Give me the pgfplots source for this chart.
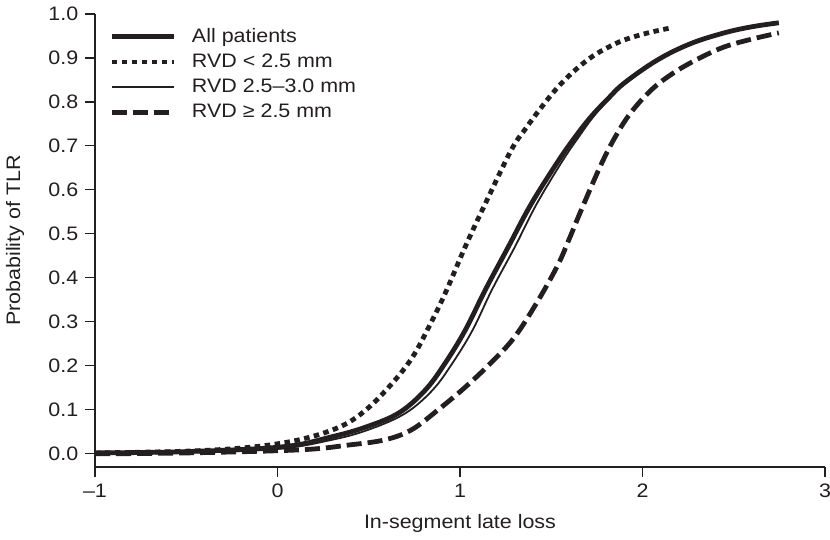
\documentclass[border=0pt]{standalone}
\usepackage{pgfplots}
\pgfplotsset{compat=1.18}
\usepackage{fontspec}
\setmainfont{Liberation Sans}[FakeStretch=1.1]
\definecolor{ink}{HTML}{231F20}
\newcommand{\chartfont}{\fontsize{19.5}{23}\selectfont}
\begin{document}
\chartfont
\begin{tikzpicture}
\useasboundingbox (-95pt,-72pt) rectangle (735pt,467pt);
\begin{axis}[
  scale only axis, width=730pt, height=453pt,
  xmin=-1, xmax=3, ymin=-0.03, ymax=1.0,
  axis x line*=bottom, axis y line*=left,
  axis line style={-, line width=1.1pt, ink},
  tick align=outside, major tick length=10pt,
  tick style={line width=1.1pt, ink},
  xtick={-1,0,1,2,3}, xticklabels={–1,0,1,2,3},
  ytick={0,0.1,0.2,0.3,0.4,0.5,0.6,0.7,0.8,0.9,1.0},
  yticklabels={0.0,0.1,0.2,0.3,0.4,0.5,0.6,0.7,0.8,0.9,1.0},
  tick label style={font=\chartfont, text=ink},
  xlabel={In-segment late loss}, ylabel={Probability of TLR},
  label style={font=\chartfont, text=ink},
  xlabel style={at={(axis description cs:0.5,-0.1236)}, anchor=center},
  ylabel style={at={(axis description cs:-0.1096,0.5)}, anchor=center},
  clip=false,
  legend cell align=left,
  legend image code/.code={\draw[#1] (0pt,0pt) -- (62pt,0pt);},
  legend style={at={(axis description cs:0,1)}, anchor=north west,
    xshift=14pt, yshift=-12pt, draw=none, fill=none, font=\chartfont,
    text=ink, row sep=4.5pt, column sep=14pt, inner sep=0pt},
]
\addplot[ink, line width=4.8pt, smooth, tension=0.6] coordinates {
(-1,0.002) (-0.5,0.005) (0.03,0.016) (0.30,0.039) (0.485,0.061) (0.665,0.093)
(0.81,0.145) (0.92,0.207) (1.03,0.282) (1.139,0.373) (1.264,0.47) (1.39,0.568)
(1.537,0.665) (1.63,0.72) (1.717,0.766) (1.81,0.807) (1.90,0.843) (2.08,0.895)
(2.26,0.932) (2.447,0.957) (2.6,0.971) (2.747,0.98)};
\addlegendentry{All patients}
\addplot[ink, line width=4.8pt, dash pattern=on 5.5pt off 4.5pt, smooth, tension=0.6] coordinates {
(-1,0.002) (-0.5,0.006) (-0.15,0.015) (0.12,0.032) (0.34,0.061) (0.485,0.100)
(0.63,0.161) (0.74,0.220) (0.83,0.289) (0.92,0.366) (1.03,0.472) (1.14,0.570)
(1.28,0.690) (1.357,0.738) (1.45,0.79) (1.537,0.834) (1.63,0.872) (1.72,0.902)
(1.81,0.924) (1.90,0.941) (2.02,0.956) (2.15,0.968)};
\addlegendentry{RVD < 2.5 mm}
\addplot[ink, line width=1.8pt, smooth, tension=0.6] coordinates {
(-1,0.001) (-0.5,0.003) (0,0.011) (0.30,0.032) (0.5,0.055) (0.7,0.092)
(0.85,0.145) (0.96,0.207) (1.07,0.282) (1.175,0.373) (1.30,0.47) (1.42,0.568)
(1.56,0.665) (1.65,0.72) (1.73,0.766) (1.815,0.807) (1.90,0.843) (2.08,0.895)
(2.26,0.932) (2.447,0.957) (2.6,0.971) (2.747,0.98)};
\addlegendentry{RVD 2.5–3.0 mm}
\addplot[ink, line width=4.8pt, dash pattern=on 15pt off 6pt, smooth, tension=0.6] coordinates {
(-1,0.0) (-0.5,0.002) (0.12,0.009) (0.39,0.02) (0.59,0.032) (0.736,0.055)
(0.88,0.10) (1.03,0.152) (1.17,0.207) (1.30,0.266) (1.43,0.35) (1.537,0.43)
(1.60,0.49) (1.66,0.55) (1.77,0.655) (1.85,0.72) (1.935,0.775) (2.05,0.828)
(2.17,0.866) (2.3,0.897) (2.447,0.925) (2.6,0.943) (2.747,0.957)};
\addlegendentry{RVD ≥ 2.5 mm}
\end{axis}
\end{tikzpicture}
\end{document}
